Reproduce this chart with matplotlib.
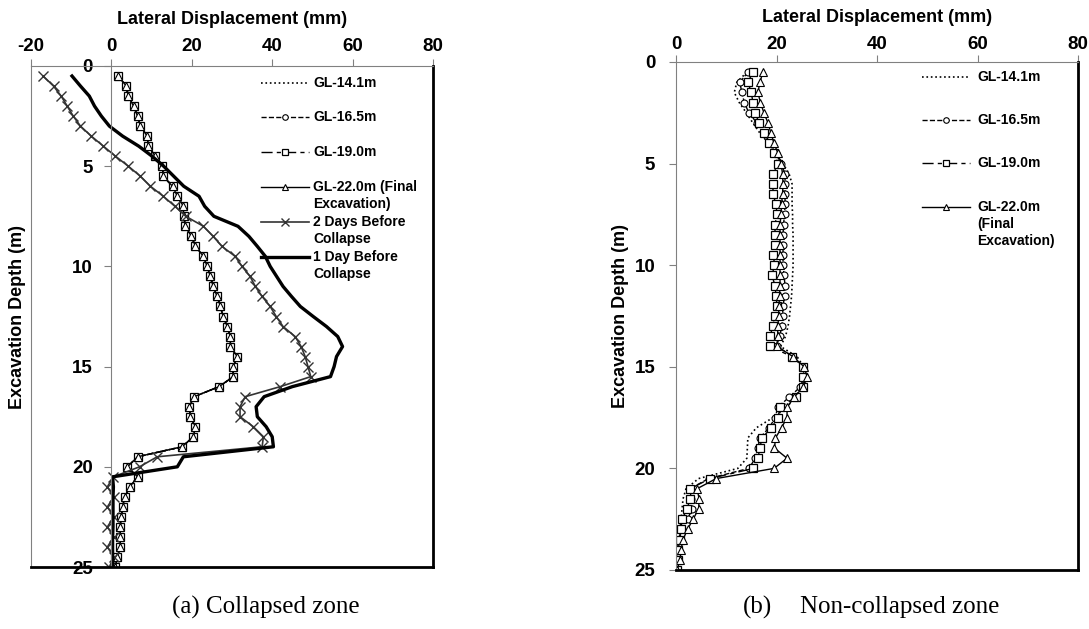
import matplotlib
matplotlib.use('Agg')
import matplotlib.pyplot as plt

plt.rcParams['font.family'] = ['Liberation Sans', 'DejaVu Sans']
plt.rcParams['font.weight'] = 'bold'
plt.rcParams['axes.unicode_minus'] = False

# ---------------- data ----------------
DEPTH = [0.5, 1.0, 1.5, 2.0, 2.5, 3.0, 3.5, 4.0, 4.5, 5.0,
         5.5, 6.0, 6.5, 7.0, 7.5, 8.0, 8.5, 9.0, 9.5, 10.0,
         10.5, 11.0, 11.5, 12.0, 12.5, 13.0, 13.5, 14.0, 14.5, 15.0,
         15.5, 16.0, 16.5, 17.0, 17.5, 18.0, 18.5, 19.0, 19.5, 20.0,
         20.5, 21.0, 21.5, 22.0, 22.5, 23.0, 23.5, 24.0, 24.5, 25.0]

# (a) Collapsed zone - the four GL stages plot on top of each other
A_GL = [1.7, 3.7, 4.2, 5.5, 6.5, 7.2, 8.9, 9.2, 10.9, 12.7,
        12.9, 15.2, 16.4, 17.9, 18.0, 18.4, 19.9, 20.9, 22.9, 23.8,
        24.6, 25.3, 26.3, 27.1, 27.8, 28.8, 29.6, 29.6, 31.3, 30.3,
        30.3, 26.8, 20.6, 19.4, 19.6, 20.9, 20.4, 17.6, 6.5, 4.0,
        6.5, 4.6, 3.3, 2.8, 2.4, 2.2, 2.2, 2.2, 1.5, 1.0]
A_GL141 = A_GL
A_GL165 = A_GL
A_GL190 = A_GL
A_GL220 = A_GL
A_2DAYS = [-17.0, -14.4, -12.5, -11.0, -9.5, -7.7, -5.0, -2.0, 1.0, 4.2,
           7.2, 9.7, 12.9, 15.8, 18.5, 22.9, 25.3, 27.5, 30.8, 32.5,
           34.5, 35.8, 37.5, 39.5, 41.0, 42.7, 45.7, 47.2, 48.2, 48.9,
           49.6, 42.0, 33.3, 32.0, 32.0, 35.3, 37.8, 37.5, 11.4, 7.0,
           0.5, -1.0, 0.6, -1.0, 0.6, -1.0, 0.6, -1.0, 0.6, -0.5]
A_1DAY = [-9.8, -7.7, -5.5, -4.2, -2.5, -0.5, 2.8, 6.8, 10.1, 13.0,
          15.5, 18.0, 21.8, 23.2, 25.5, 31.5, 34.2, 36.3, 38.3, 39.5,
          41.1, 42.7, 44.8, 47.0, 50.2, 53.5, 56.3, 57.5, 56.0, 55.4,
          54.5, 45.0, 38.0, 36.0, 36.3, 38.5, 40.0, 40.3, 17.9, 16.4,
          0.3, 0.5, 0.4, 0.4, 0.4, 0.4, 0.3, 0.3, 0.3, 0.3]

# (b) Non-collapsed zone
B_GL141 = [14.1, 12.1, 11.6, 12.6, 14.0, 15.3, 16.7, 18.4, 19.8, 21.3,
           22.5, 23.1, 23.1, 23.1, 23.2, 23.2, 23.3, 23.3, 23.3, 23.3,
           23.2, 23.1, 23.0, 22.8, 22.6, 22.3, 21.8, 20.8, 24.1, 25.4,
           25.7, 25.4, 23.5, 22.1, 19.3, 16.0, 14.3, 14.2, 14.1, 12.3,
           4.5, 2.0, 1.4, 1.2, 1.0, 0.8, 0.5, 0.2, 0.1, 0.0]
B_GL165 = [14.3, 12.7, 13.1, 13.6, 14.5, 16.1, 17.6, 18.7, 19.9, 20.9,
           21.7, 21.7, 21.7, 21.7, 21.6, 21.4, 21.3, 21.3, 21.3, 21.3,
           21.5, 21.7, 21.6, 21.3, 21.2, 21.1, 20.6, 20.1, 23.3, 25.3,
           25.5, 24.7, 22.5, 20.2, 19.8, 18.5, 16.7, 16.3, 15.8, 14.5,
           6.5, 2.8, 3.0, 3.2, 2.3, 1.2, 0.4, 0.0, 0.1, 0.0]
B_GL190 = [15.3, 14.3, 15.0, 15.3, 15.8, 16.5, 17.6, 18.6, 19.6, 20.3,
           19.3, 19.3, 19.3, 19.9, 20.1, 19.7, 19.7, 19.7, 19.4, 19.6,
           19.1, 19.7, 19.9, 20.1, 19.7, 19.3, 18.7, 18.7, 23.1, 25.3,
           25.3, 25.3, 23.8, 20.7, 20.3, 19.0, 17.1, 16.7, 16.3, 15.4,
           6.8, 2.8, 2.8, 2.2, 1.2, 1.0, 0.8, 0.4, 0.3, 0.2]
B_GL220 = [17.3, 16.7, 16.3, 16.8, 17.5, 18.3, 18.9, 19.5, 20.3, 20.9,
           21.2, 21.3, 21.2, 21.0, 20.9, 20.7, 20.7, 20.7, 20.7, 20.7,
           20.7, 20.7, 20.6, 20.5, 20.4, 20.3, 20.2, 20.1, 23.3, 25.5,
           26.1, 25.3, 23.5, 22.1, 22.1, 21.0, 19.8, 19.6, 22.1, 19.5,
           8.0, 4.2, 4.6, 4.5, 3.4, 2.3, 1.4, 1.0, 0.8, 0.2]

X_TICKS_A = [-20, 0, 20, 40, 60, 80]
X_TICKS_B = [0, 20, 40, 60, 80]
Y_TICKS = [0, 5, 10, 15, 20, 25]

LABELS_A = ['GL-14.1m', 'GL-16.5m', 'GL-19.0m', 'GL-22.0m (Final\nExcavation)',
            '2 Days Before\nCollapse', '1 Day Before\nCollapse']
LABELS_B = ['GL-14.1m', 'GL-16.5m', 'GL-19.0m', 'GL-22.0m\n(Final\nExcavation)']

# ---------------- styles ----------------
S141 = dict(color='black', lw=1.2, ls=':')
S165 = dict(color='black', lw=1.0, ls='--', marker='o', ms=5, mfc='white', mec='black', mew=0.8)
S190 = dict(color='black', lw=1.0, ls=(0, (8, 3, 3, 3)), marker='s', ms=5.5, mfc='white', mec='black', mew=0.9)
S220 = dict(color='black', lw=1.0, ls='-', marker='^', ms=5.5, mfc='white', mec='black', mew=0.8)
S2D = dict(color='#333333', lw=1.2, ls='-', marker='x', ms=7, mew=1.0)
S1D = dict(color='black', lw=2.4, ls='-')

W, H = 1089, 629
fig = plt.figure(figsize=(W / 100, H / 100), dpi=100)


def fx(px):
    return px / W


def fy(py):
    return 1 - py / H


ax1 = fig.add_axes([fx(31), fy(567), (433 - 31) / W, (567 - 66) / H])
ax2 = fig.add_axes([fx(676), fy(570), (1078 - 676) / W, (570 - 62) / H])

ax1.plot(A_GL141, DEPTH, **S141)
ax1.plot(A_GL165, DEPTH, **S165)
ax1.plot(A_GL190, DEPTH, **S190)
ax1.plot(A_GL220, DEPTH, **S220)
ax1.plot(A_2DAYS, DEPTH, **S2D)
ax1.plot(A_1DAY, DEPTH, **S1D)

ax2.plot(B_GL141, DEPTH, **S141)
ax2.plot(B_GL165, DEPTH, **S165)
ax2.plot(B_GL190, DEPTH, **S190)
ax2.plot(B_GL220, DEPTH, **S220)

for ax, xt, xpad in ((ax1, X_TICKS_A, 3), (ax2, X_TICKS_B, 1.5)):
    ax.set_xlim(xt[0], xt[-1])
    ax.set_ylim(25, 0)
    ax.set_xticks(xt)
    ax.set_yticks(Y_TICKS)
    ax.xaxis.set_ticks_position('top')
    ax.tick_params(axis='x', direction='out', length=5, width=0.8, color='#808080',
                   labelsize=13.5, pad=xpad)
    ax.tick_params(axis='y', direction='out', length=5, width=0.8, color='#808080',
                   labelsize=13.5)
    for lab in ax.get_xticklabels() + ax.get_yticklabels():
        lab.set_fontweight('bold')
    ax.spines['top'].set_color('#808080')
    ax.spines['top'].set_linewidth(0.8)
    ax.spines['left'].set_color('#808080')
    ax.spines['left'].set_linewidth(0.8)
    ax.spines['right'].set_color('black')
    ax.spines['right'].set_linewidth(2.0)
    ax.spines['bottom'].set_color('black')
    ax.spines['bottom'].set_linewidth(2.0)
    ax.set_facecolor('white')

ax1.tick_params(axis='y', pad=8.5)
ax2.tick_params(axis='y', pad=10)
# y-axis of panel (a) crosses at x = 0; plot-area border kept at the left edge
ax1.spines['left'].set_position(('data', 0))
ax1.plot([0, 0], [0, 1], transform=ax1.transAxes, color='#808080', lw=0.8, clip_on=False)

# axis titles
for cx, cy in ((232, 20), (877, 17)):
    fig.text(fx(cx), fy(cy), 'Lateral Displacement (mm)', ha='center', va='center',
             fontsize=13, fontweight='bold')
for cx, cy in ((18, 317), (620, 316)):
    fig.text(fx(cx), fy(cy), 'Excavation Depth (m)', ha='center', va='center',
             rotation=90, fontsize=13, fontweight='bold')


# manual legends (handle on first text line, as in the reference)
def legend(styles, labels, hx0, hx1, tx, rows, pitch, fs=10):
    for st, lab, ry in zip(styles, labels, rows):
        line_kw = {k: v for k, v in st.items() if k not in ('marker', 'ms', 'mfc', 'mec', 'mew')}
        fig.add_artist(plt.Line2D([fx(hx0), fx(hx1)], [fy(ry), fy(ry)], **line_kw))
        if 'marker' in st:
            mk = {k: v for k, v in st.items() if k in ('marker', 'mfc', 'mec', 'mew', 'color')}
            fig.add_artist(plt.Line2D([fx((hx0 + hx1) / 2)], [fy(ry)], ls='none',
                                      ms=st['ms'] * 0.8, **mk))
        for i, part in enumerate(lab.split('\n')):
            fig.text(fx(tx), fy(ry + i * pitch), part, ha='left', va='center',
                     fontsize=fs, fontweight='bold')


legend([S141, S165, S190, S220, S2D, S1D], LABELS_A, 261, 309, 313,
       [83, 117, 152, 187, 222, 257], 17.2)
legend([S141, S165, S190, S220], LABELS_B, 922, 970, 977,
       [77, 120, 163, 207], 17.0)

# captions
cap_kw = dict(ha='left', va='center', fontsize=18, family='Liberation Serif', fontweight='normal')
fig.text(fx(172), fy(607), '(a) Collapsed zone', **cap_kw)
fig.text(fx(743), fy(607), '(b)', **cap_kw)
fig.text(fx(800), fy(607), 'Non-collapsed zone', **cap_kw)

fig.savefig('out.png', dpi=100, facecolor='white')
